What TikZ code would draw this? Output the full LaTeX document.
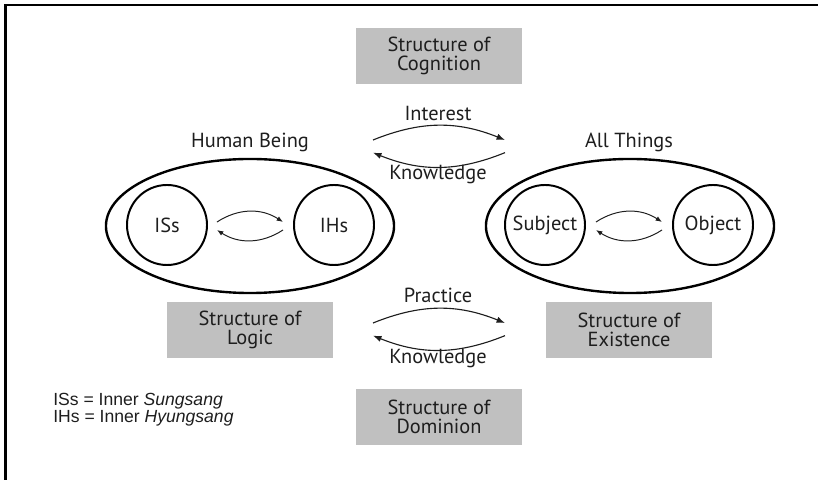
\documentclass[tikz,border=0pt]{standalone}
\usepackage{fontspec}
\setmainfont{PT Sans}
\newfontfamily\legendfont{Liberation Sans}
\usetikzlibrary{shapes.geometric,arrows.meta,positioning,calc}

\definecolor{structgray}{RGB}{192,192,192}
\definecolor{inkgray}{RGB}{30,30,30}

\begin{document}
\begin{tikzpicture}[
    x=0.025cm, y=0.025cm,
    font=\fontsize{14.5}{13}\selectfont,
    text=inkgray,
    structbox/.style={fill=structgray, minimum width=4.15cm, minimum height=1.4cm, align=center, inner sep=0pt},
    outerring/.style={draw=black, line width=1.7pt, ellipse, minimum width=7.2cm, minimum height=3.35cm, inner sep=0pt},
    innerring/.style={draw=black, line width=1.4pt, circle, minimum size=2.0cm, inner sep=0pt},
    tag/.style={inner sep=0pt},
    bigarr/.style={draw=inkgray, line width=0.8pt, -{Latex[length=6pt,width=4.5pt]}},
    smallarr/.style={draw=inkgray, line width=0.7pt, -{Latex[length=4.5pt,width=3.5pt]}}
]
    \useasboundingbox (0,0) rectangle (818,480);
    \draw[line width=2.1pt, draw=black] (5.7,0) |- (818,475);

    \node[structbox] (cognition) at (439,424) {Structure of\\Cognition};
    \node[structbox] (logic)     at (250,150) {Structure of\\Logic};
    \node[structbox] (existence) at (629,150) {Structure of\\Existence};
    \node[structbox] (dominion)  at (439,63)  {Structure of\\Dominion};

    \node[outerring] (human)  at (250,254) {};
    \node[outerring] (things) at (630,254) {};
    \node[tag] (humanlbl)  at (250,338) {Human Being};
    \node[tag] (thingslbl) at (629,338) {All Things};

    \node[innerring] (iss)     at (167,255) {ISs};
    \node[innerring] (ihs)     at (334,255) {IHs};
    \node[innerring] (subject) at (545,255) {Subject};
    \node[innerring] (object)  at (713,255) {Object};

    \draw[smallarr] ([shift={(9,3)}]iss.east) to[bend left=33] ([shift={(-10,3)}]ihs.west);
    \draw[smallarr] ([shift={(-10,-5)}]ihs.west) to[bend left=33] ([shift={(9,-5)}]iss.east);
    \draw[smallarr] ([shift={(10,3)}]subject.east) to[bend left=33] ([shift={(-10,3)}]object.west);
    \draw[smallarr] ([shift={(-10,-5)}]object.west) to[bend left=33] ([shift={(10,-5)}]subject.east);

    \coordinate (cogL) at (373,340);
    \coordinate (cogR) at (505,340);
    \coordinate (domL) at (373,157);
    \coordinate (domR) at (505,157);

    \node[tag] (interest)   at (438,367) {Interest};
    \node[tag] (knowtop)    at (438,305) {Knowledge};
    \node[tag] (practice)   at (438,185) {Practice};
    \node[tag] (knowbottom) at (438,121) {Knowledge};

    \draw[bigarr] (cogL) to[bend left=22] (cogR);
    \draw[bigarr] ([yshift=-9]cogR) to[bend left=22] ([yshift=-9]cogL);
    \draw[bigarr] (domL) to[bend left=22] (domR);
    \draw[bigarr] ([yshift=-9]domR) to[bend left=22] ([yshift=-9]domL);

    \node[tag, anchor=north west, align=left, font=\legendfont\fontsize{12.5}{11}\selectfont] (legend) at (53,87)
        {ISs = Inner \textit{Sungsang}\\IHs = Inner \textit{Hyungsang}};
\end{tikzpicture}
\end{document}
